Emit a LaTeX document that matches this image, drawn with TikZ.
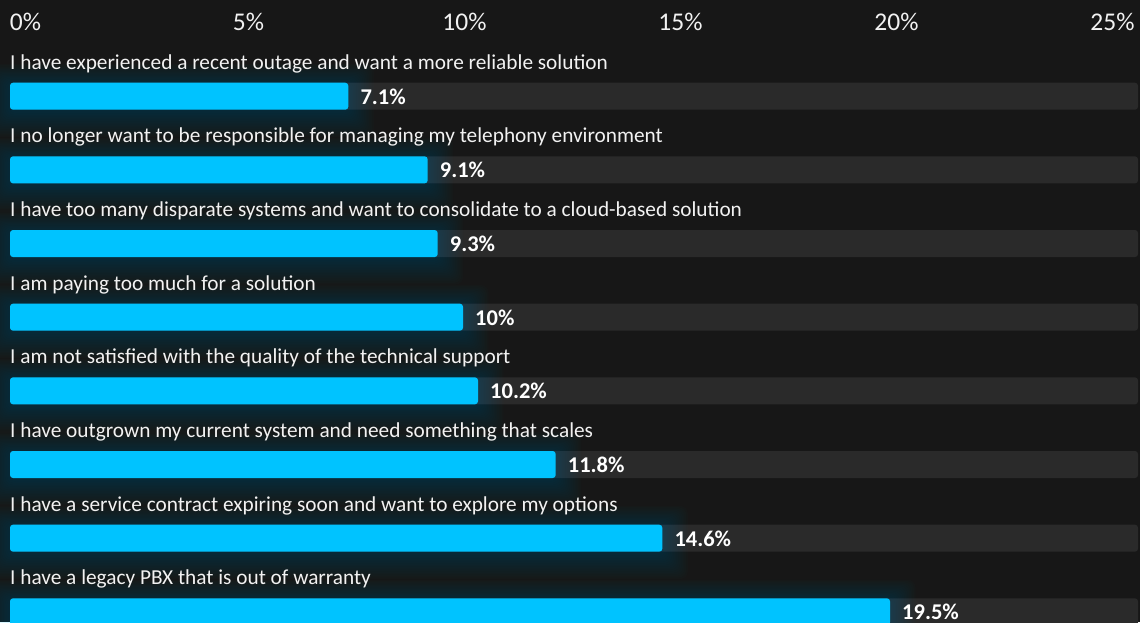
\documentclass[tikz,border=0pt]{standalone}
\usepackage{fontspec}
\setmainfont{Carlito}
\definecolor{bg}{HTML}{171717}
\definecolor{track}{HTML}{2A2A2A}
\definecolor{barblue}{HTML}{00C3FF}
\definecolor{txt}{HTML}{F2F2F2}
\tikzset{
  axislbl/.style={text=txt,font=\fontsize{25.5}{25.5}\selectfont,inner sep=0pt,anchor=center},
  rowlbl/.style={text=txt,font=\fontsize{21.3}{21.3}\selectfont,inner sep=0pt,anchor=base west},
  vallbl/.style={text=white,font=\bfseries\fontsize{22.5}{22.5}\selectfont,inner sep=0pt,anchor=base west},
  trackbar/.style={fill=track,rounded corners=3pt},
  bluebar/.style={fill=barblue,rounded corners=3pt},
  glowbar/.style={fill=barblue,opacity=0.012,rounded corners=8pt}
}
\begin{document}
\begin{tikzpicture}[x=1pt,y=-1pt]
\fill[bg] (0,0) rectangle (1140,622);
\useasboundingbox (0,0) rectangle (1140,622);
\clip (0,0) rectangle (1140,622);
% axis labels
\node[axislbl] (a0) at (25.5,21.5) {0\%};
\node[axislbl] (a5) at (248.5,21.5) {5\%};
\node[axislbl] (a10) at (464.5,21.5) {10\%};
\node[axislbl] (a15) at (680.5,21.5) {15\%};
\node[axislbl] (a20) at (896.5,21.5) {20\%};
\node[axislbl] (a25) at (1112.5,21.5) {25\%};
% rows
\foreach \i/\e/\v/\t in {
  0/348.3/7.1\%/I have experienced a recent outage and want a more reliable solution,
  1/427.7/9.1\%/I no longer want to be responsible for managing my telephony environment,
  2/437.7/9.3\%/I have too many disparate systems and want to consolidate to a cloud-based solution,
  3/463.0/10\%/I am paying too much for a solution,
  4/478.0/10.2\%/I am not satisfied with the quality of the technical support,
  5/555.7/11.8\%/I have outgrown my current system and need something that scales,
  6/662.3/14.6\%/I have a service contract expiring soon and want to explore my options,
  7/890.0/19.5\%/I have a legacy PBX that is out of warranty}{
  \pgfmathsetmacro{\top}{82.7+73.66*\i}
  \fill[trackbar] (10,\top) rectangle (1138,\top+27);
  \foreach \k in {1,...,16}{
    \fill[glowbar] (10-1.6*\k,\top-1.3*\k+2) rectangle (\e+1.6*\k,\top+27+1.6*\k+2);
  }
  \fill[bluebar] (10,\top) rectangle (\e,\top+27);
  \node[rowlbl] (l\i) at (10,\top-13.4) {\t};
  \node[vallbl] (v\i) at (\e+12,\top+21.5) {\v};
}
\end{tikzpicture}
\end{document}
